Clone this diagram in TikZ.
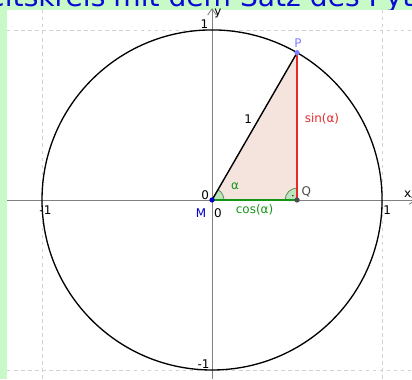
\documentclass[tikz,border=0pt]{standalone}
\usepackage{fontspec}
\setmainfont{DejaVu Sans}
\usetikzlibrary{arrows.meta, calc}

\definecolor{bggreen}{RGB}{200,250,200}
\definecolor{titleblue}{RGB}{10,10,210}
\definecolor{trifill}{RGB}{245,228,222}
\definecolor{sinred}{RGB}{232,40,40}
\definecolor{cosgreen}{RGB}{20,150,20}
\definecolor{pblue}{RGB}{125,125,255}
\definecolor{mblue}{RGB}{0,0,200}

\begin{document}
\begin{tikzpicture}[
    x=3.4cm, y=3.4cm,
    >={Straight Barb[length=3.5pt, width=5pt]},
    axis/.style={gray, line width=0.5pt},
    gridline/.style={gray!35, dashed, dash pattern=on 2pt off 2pt, line width=0.4pt},
    lbl/.style={font=\fontsize{6.8}{8}\selectfont, inner sep=1pt},
    title/.style={font=\fontsize{16}{18}\selectfont, text=titleblue, inner sep=0pt},
    side/.style={line width=0.8pt},
    anglemark/.style={fill=green!55!black!25, draw=green!35!black!70, line width=0.4pt},
    pt/.style={circle, fill, inner sep=0pt, minimum size=3pt}
]
    % background and frame
    \useasboundingbox (-1.247,-1.053) rectangle (1.176,1.176);
    \fill[bggreen] (-1.247,-1.053) rectangle (1.176,1.176);
    \node[title, anchor=base east] (ttla) at (-0.625,1.135) {Einheitskreis};
    \node[title, anchor=base west] (ttlb) at (-0.582,1.135) {mit dem Satz des Pythagoras};
    \fill[white] (-1.206,-1.053) rectangle (1.176,1.118);

    % grid and axes
    \foreach \v in {-1,1} {
        \draw[gridline] (\v,-1.053) -- (\v,1.118);
        \draw[gridline] (-1.206,\v) -- (1.176,\v);
    }
    \draw[axis, ->] (-1.206,0) -- (1.2,0);
    \draw[axis, ->] (0,-1.053) -- (0,1.128);
    \node[lbl] (xlab) at (1.15,0.035) {x};
    \node[lbl] (ylab) at (0.035,1.095) {y};
    \node[lbl] (ytop) at (-0.045,1.035) {1};
    \node[lbl] (ybot) at (-0.05,-0.965) {-1};
    \node[lbl] (xleft) at (-0.98,-0.06) {-1};
    \node[lbl] (xright) at (1.03,-0.06) {1};
    \node[lbl] (zeroa) at (-0.04,0.03) {0};
    \node[lbl] (zerob) at (0.035,-0.075) {0};

    % points
    \coordinate (M) at (0,0);
    \coordinate (Q) at ({cos(60)},0);
    \coordinate (P) at (60:1);

    \fill[trifill] (M) -- (Q) -- (P) -- cycle;
    \draw[line width=0.75pt] (M) circle[radius=1];

    % angle marks
    \draw[anglemark] (M) -- ++(0:0.07) arc[start angle=0, end angle=60, radius=0.07] -- cycle;
    \draw[anglemark] (Q) -- ++(90:0.07) arc[start angle=90, end angle=180, radius=0.07] -- cycle;
    \fill ($(Q)+(135:0.035)$) circle[radius=0.4pt];

    % triangle sides
    \draw[side, black] (M) -- node[lbl, above left, pos=0.5] {1} (P);
    \draw[side, sinred] (Q) -- node[lbl, right, text=sinred, pos=0.55, xshift=3pt] {sin(α)} (P);
    \draw[side, cosgreen] (M) -- node[lbl, below, text=cosgreen, yshift=-1pt] {cos(α)} (Q);
    \node[lbl, text=cosgreen] (alab) at (0.135,0.08) {α};

    \node[pt, mblue] (Mpt) at (M) {};
    \node[pt, black!70] (Qpt) at (Q) {};
    \node[pt, pblue] (Ppt) at (P) {};
    \node[lbl, text=mblue] (Mlab) at (-0.065,-0.075) {M};
    \node[lbl, text=black!70] (Qlab) at (0.555,0.05) {Q};
    \node[lbl, text=pblue] (Plab) at (0.505,0.925) {P};
\end{tikzpicture}
\end{document}
